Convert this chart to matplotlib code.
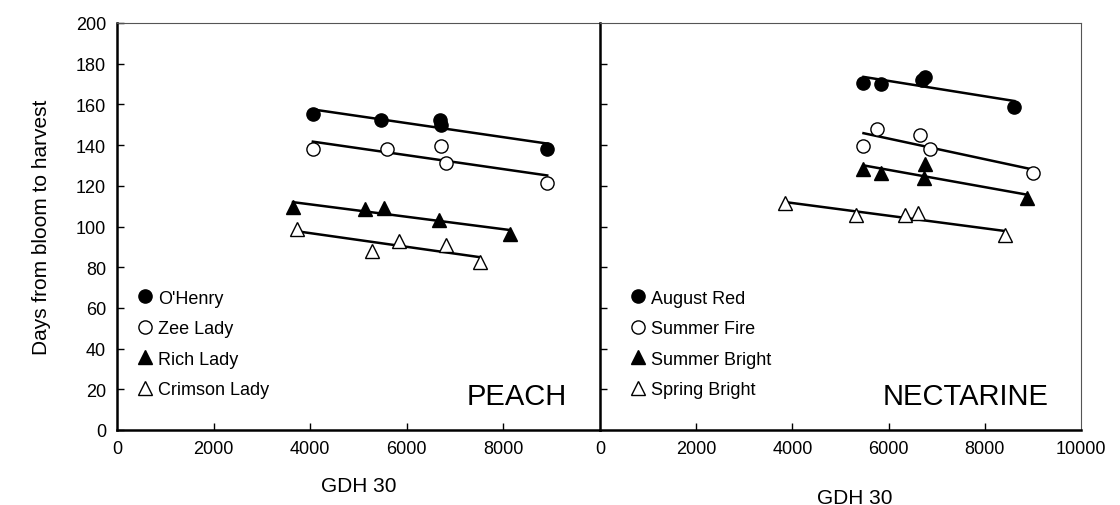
import numpy as np
import matplotlib
matplotlib.use('Agg')
import matplotlib.pyplot as plt

plt.rcParams['font.family'] = ['Liberation Sans', 'DejaVu Sans']

# peach cultivars: GDH 30 vs days from bloom to harvest
peach_names = ["O'Henry", "Zee Lady", "Rich Lady", "Crimson Lady"]
ohenry_x = [4055, 5464, 6687, 6715, 8907]
ohenry_y = [155.4, 152.1, 152.2, 150.1, 137.9]
zee_x = [4055, 5588, 6708, 6818, 8907]
zee_y = [137.9, 137.9, 139.8, 131.2, 121.3]
rich_x = [3643, 5134, 5526, 6674, 8137]
rich_y = [109.5, 108.4, 109.2, 103.0, 96.5]
crimson_x = [3732, 5271, 5842, 6804, 7512]
crimson_y = [98.6, 88.0, 92.9, 90.8, 82.6]

# nectarine cultivars
nect_names = ["August Red", "Summer Fire", "Summer Bright", "Spring Bright"]
august_x = [5478, 5846, 6692, 6748, 8613]
august_y = [170.6, 170.1, 172.2, 173.3, 158.8]
sfire_x = [5478, 5756, 6657, 6865, 9001]
sfire_y = [139.8, 148.0, 144.9, 137.9, 126.4]
sbright_x = [5478, 5846, 6761, 6727, 8877]
sbright_y = [128.5, 126.4, 130.8, 124.0, 113.8]
spring_x = [3849, 5326, 6345, 6602, 8412]
spring_y = [111.4, 105.6, 105.6, 106.5, 95.8]

styles = [('o', 'black'), ('o', 'white'), ('^', 'black'), ('^', 'white')]

fig = plt.figure(figsize=(11.2, 5.06), dpi=100)
ax1 = fig.add_axes([117 / 1120, 75 / 506, 483 / 1120, 407 / 506])
ax2 = fig.add_axes([600 / 1120, 75 / 506, 481 / 1120, 407 / 506])


def draw_panel(ax, series, names, label, xticklabels, leg_x):
    for (xs, ys), (m, fc), name in zip(series, styles, names):
        xs = np.array(xs, dtype=float)
        ys = np.array(ys, dtype=float)
        k, b = np.polyfit(xs, ys, 1)
        xl = np.array([xs.min(), xs.max()])
        ax.plot(xl, k * xl + b, color='black', lw=1.8, zorder=2)
        ax.plot(xs, ys, linestyle='none', marker=m, markersize=9.5,
                markerfacecolor=fc, markeredgecolor='black',
                markeredgewidth=1.0, zorder=3, label=name)
    ax.set_xlim(0, 10000)
    ax.set_ylim(0, 200)
    ax.set_xticks([2000, 4000, 6000, 8000])
    ax.set_xticklabels([])
    ax.set_yticks(np.arange(20, 200, 20))
    ax.tick_params(direction='in', length=5, width=1, labelsize=13)
    for s in ['left', 'bottom']:
        ax.spines[s].set_linewidth(1.8)
        ax.spines[s].set_color('black')
    for s in ['top', 'right']:
        ax.spines[s].set_linewidth(0.8)
        ax.spines[s].set_color('#555555')
    ax.text(0.932, 0.05, label, transform=ax.transAxes, ha='right',
            va='bottom', fontsize=21)
    ax.legend(loc='lower left', bbox_to_anchor=(leg_x, 0.047),
              frameon=False, fontsize=13, handletextpad=0.0,
              handlelength=1.5, labelspacing=0.75, borderaxespad=0.3)
    # tick labels placed as plain text so both panels share the edge
    for v in xticklabels:
        ax.text(v, -0.025, '%d' % v, transform=ax.get_xaxis_transform(),
                ha='center', va='top', fontsize=13)


draw_panel(ax1, [(ohenry_x, ohenry_y), (zee_x, zee_y), (rich_x, rich_y),
                 (crimson_x, crimson_y)], peach_names, 'PEACH',
           [0, 2000, 4000, 6000, 8000], 0.003)
draw_panel(ax2, [(august_x, august_y), (sfire_x, sfire_y),
                 (sbright_x, sbright_y), (spring_x, spring_y)], nect_names,
           'NECTARINE', [0, 2000, 4000, 6000, 8000, 10000], 0.024)

ax1.set_yticks(np.arange(0, 201, 20))
ax1.tick_params(axis='y', pad=8)
ax1.set_ylabel('Days from bloom to harvest', fontsize=15, labelpad=18)
ax2.set_yticklabels([])

ax1.text(0.5, -0.113, 'GDH 30', transform=ax1.transAxes, ha='center',
         va='top', fontsize=15)
ax2.text(0.53, -0.143, 'GDH 30', transform=ax2.transAxes, ha='center',
         va='top', fontsize=15)

fig.savefig('out.png', dpi=100)
